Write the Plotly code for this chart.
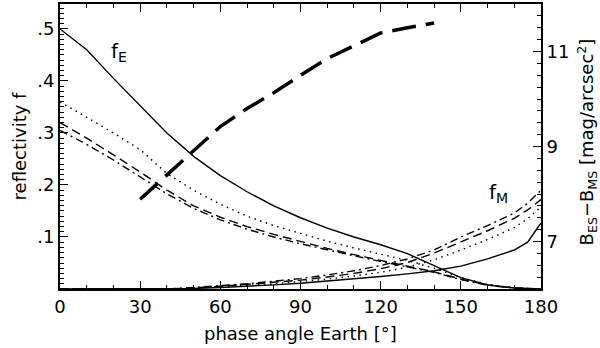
import plotly.graph_objects as go

# phase angle grid (deg)
phase = [0, 10, 20, 30, 40, 50, 60, 70, 80, 90, 100, 110, 120, 130, 140, 150, 160, 170, 175, 180]

# Earth reflectivity f_E (decreasing curves)
fe_solid = [0.50, 0.46, 0.405, 0.352, 0.30, 0.255, 0.218, 0.187, 0.16, 0.137, 0.117, 0.10, 0.085, 0.068, 0.045, 0.022, 0.008, 0.002, 0.001, 0.0]
fe_dot = [0.36, 0.33, 0.30, 0.268, 0.222, 0.19, 0.163, 0.14, 0.122, 0.107, 0.092, 0.079, 0.067, 0.055, 0.04, 0.022, 0.009, 0.002, 0.001, 0.0]
fe_dash = [0.32, 0.29, 0.258, 0.225, 0.19, 0.16, 0.138, 0.12, 0.105, 0.091, 0.078, 0.066, 0.055, 0.045, 0.033, 0.019, 0.008, 0.002, 0.001, 0.0]
fe_dashdot = [0.305, 0.278, 0.248, 0.215, 0.183, 0.155, 0.133, 0.115, 0.10, 0.087, 0.075, 0.064, 0.053, 0.043, 0.032, 0.018, 0.007, 0.002, 0.001, 0.0]

# Moon reflectivity f_M (increasing curves)
fm_solid = [0, 0, 0, 0, 0, 0.001, 0.003, 0.005, 0.008, 0.011, 0.015, 0.019, 0.024, 0.029, 0.035, 0.044, 0.058, 0.075, 0.09, 0.127]
fm_dot = [0, 0, 0, 0, 0, 0.002, 0.004, 0.007, 0.01, 0.014, 0.019, 0.025, 0.032, 0.042, 0.056, 0.075, 0.095, 0.118, 0.135, 0.158]
fm_dash = [0, 0, 0, 0, 0, 0.002, 0.005, 0.009, 0.013, 0.017, 0.023, 0.03, 0.039, 0.051, 0.069, 0.091, 0.112, 0.136, 0.152, 0.172]
fm_dashdot = [0, 0, 0, 0, 0, 0.003, 0.006, 0.01, 0.015, 0.02, 0.027, 0.035, 0.045, 0.058, 0.075, 0.10, 0.122, 0.146, 0.165, 0.19]

# surface brightness difference (right axis)
phase_b = [30, 40, 50, 60, 70, 80, 90, 100, 110, 120, 130, 140]
b_diff = [7.89, 8.4, 8.92, 9.42, 9.8, 10.13, 10.5, 10.85, 11.12, 11.39, 11.5, 11.6]

FONT = "DejaVu Sans"

fig = go.Figure()

styles = [
    (fe_solid, "solid"), (fe_dot, "1.5px,4.5px"), (fe_dash, "9px,5px"), (fe_dashdot, "8px,4px,2px,4px"),
    (fm_solid, "solid"), (fm_dot, "1.5px,4.5px"), (fm_dash, "9px,5px"), (fm_dashdot, "8px,4px,2px,4px"),
]
for ys, dash in styles:
    fig.add_trace(go.Scatter(x=phase, y=ys, mode="lines",
                             line=dict(color="black", width=1.4, dash=dash)))

fig.add_trace(go.Scatter(x=phase_b, y=b_diff, mode="lines", yaxis="y2",
                         line=dict(color="black", width=3.5, dash="24px,10px")))

tickfont = dict(family=FONT, size=18, color="black")

fig.add_annotation(x=22, y=0.455, text="f<sub>E</sub>", showarrow=False,
                   font=dict(family=FONT, size=20, color="black"))
fig.add_annotation(x=164, y=0.185, text="f<sub>M</sub>", showarrow=False,
                   font=dict(family=FONT, size=20, color="black"))
# axis titles placed as annotations for exact positioning
fig.add_annotation(xref="paper", yref="paper", x=0.5, y=-0.155, yanchor="middle",
                   text="phase angle Earth [°]", showarrow=False, font=tickfont)
fig.add_annotation(xref="paper", yref="paper", x=1.096, y=0.515, xanchor="center",
                   yanchor="middle", textangle=-90, showarrow=False, font=tickfont,
                   text="B<sub>ES</sub>−B<sub>MS</sub> [mag/arcsec<sup>2</sup>]")

fig.update_layout(
    width=600, height=348,
    margin=dict(l=60, r=59, t=4, b=59, autoexpand=False),
    plot_bgcolor="white", paper_bgcolor="white",
    showlegend=False,
    xaxis=dict(range=[0, 180], tickvals=[0, 30, 60, 90, 120, 150, 180],
               ticks="inside", ticklen=8, tickwidth=1.2, tickcolor="black",
               minor=dict(dtick=10, ticks="inside", ticklen=4, tickcolor="black"),
               showline=True, linecolor="black", linewidth=2, mirror="ticks",
               showgrid=False, zeroline=False, tickfont=tickfont, automargin=False),
    yaxis=dict(range=[0, 0.548], tickvals=[0.1, 0.2, 0.3, 0.4, 0.5],
               ticktext=[".1", ".2", ".3", ".4", ".5"],
               ticks="inside", ticklen=8, tickwidth=1.2, tickcolor="black",
               minor=dict(dtick=0.01, ticks="inside", ticklen=4, tickcolor="black"),
               showline=True, linecolor="black", linewidth=2,
               showgrid=False, zeroline=False, tickfont=tickfont, automargin=False,
               title=dict(text="reflectivity f", font=tickfont, standoff=6)),
    yaxis2=dict(range=[6, 12], overlaying="y", side="right", tickvals=[7, 9, 11],
                ticks="inside", ticklen=8, tickwidth=1.2, tickcolor="black",
                minor=dict(dtick=0.25, ticks="inside", ticklen=4, tickcolor="black"),
                showline=True, linecolor="black", linewidth=2,
                showgrid=False, zeroline=False, tickfont=tickfont, automargin=False),
)

fig.write_html("out.html", config={"displayModeBar": False},
               post_script="document.body.style.margin = '0';")
